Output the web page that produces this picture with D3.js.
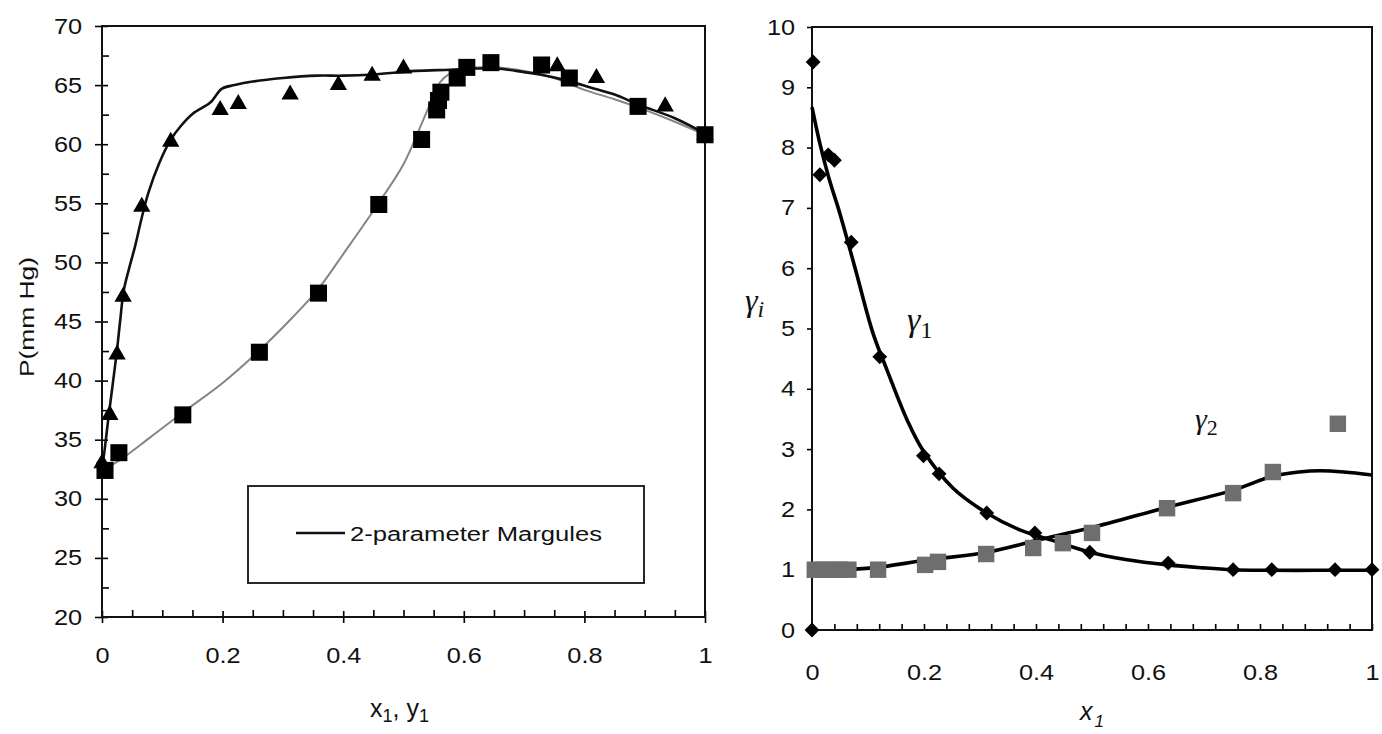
<!DOCTYPE html>
<html><head><meta charset="utf-8">
<script src="https://cdn.jsdelivr.net/npm/d3@7"></script>
<style>body{margin:0;background:#fff}svg{display:block}</style>
</head><body>
<svg id="c" width="1382" height="734"></svg>
<script>
// ---------- Left chart data: P-x-y ----------
const pTicks = [20, 25, 30, 35, 40, 45, 50, 55, 60, 65, 70];
const xTicksLeft = [0, 0.2, 0.4, 0.6, 0.8, 1];
// triangles (bubble point data)
const triX = [0.0, 0.013, 0.025, 0.035, 0.066, 0.114, 0.196, 0.226, 0.312, 0.392, 0.448, 0.50, 0.755, 0.82, 0.934, 1.0];
const triP = [33.0, 37.1, 42.2, 47.1, 54.7, 60.2, 62.9, 63.4, 64.2, 65.0, 65.8, 66.4, 66.6, 65.6, 63.2, 60.8];
// squares (dew point data)
const sqX = [0.005, 0.028, 0.134, 0.261, 0.359, 0.459, 0.530, 0.555, 0.558, 0.562, 0.589, 0.605, 0.645, 0.729, 0.775, 0.889, 1.0];
const sqP = [32.4, 33.9, 37.1, 42.4, 47.4, 54.9, 60.4, 62.9, 63.7, 64.4, 65.6, 66.5, 66.9, 66.7, 65.6, 63.2, 60.8];
// black model curve
const bubX = [0, 0.004, 0.011, 0.024, 0.030, 0.036, 0.045, 0.055, 0.066, 0.077, 0.095, 0.113, 0.13, 0.151, 0.179, 0.199, 0.22, 0.25, 0.30, 0.356, 0.40, 0.45, 0.52, 0.577, 0.62, 0.655, 0.70, 0.726, 0.77, 0.81, 0.85, 0.892, 0.95, 1.0];
const bubP = [32.6, 34.0, 37.0, 42.2, 45.0, 47.6, 49.5, 51.4, 53.8, 55.9, 58.4, 60.3, 61.5, 62.6, 63.5, 64.7, 65.0, 65.3, 65.6, 65.8, 65.8, 65.9, 66.2, 66.3, 66.4, 66.4, 66.1, 65.9, 65.4, 64.8, 64.2, 63.3, 62.2, 60.9];
// gray model curve
const dewX = [0, 0.03, 0.08, 0.134, 0.2, 0.262, 0.317, 0.358, 0.40, 0.433, 0.461, 0.50, 0.539, 0.56, 0.577, 0.60, 0.65, 0.70, 0.75, 0.80, 0.85, 0.90, 0.95, 1.0];
const dewP = [32.4, 33.3, 35.2, 37.3, 39.8, 42.6, 45.4, 47.7, 50.7, 53.1, 55.2, 58.3, 62.8, 65.2, 66.0, 66.4, 66.5, 66.2, 65.6, 64.6, 63.8, 62.9, 61.9, 60.8];
const legendLabel = "2-parameter Margules";

// ---------- Right chart data: activity coefficients ----------
const gTicks = [0, 1, 2, 3, 4, 5, 6, 7, 8, 9, 10];
const xTicksRight = [0, 0.2, 0.4, 0.6, 0.8, 1];
const g1X = [0, 0.002, 0.014, 0.029, 0.04, 0.07, 0.121, 0.199, 0.227, 0.312, 0.398, 0.496, 0.636, 0.752, 0.821, 0.934, 1.0];
const g1Y = [0, 9.42, 7.55, 7.88, 7.79, 6.43, 4.53, 2.89, 2.59, 1.94, 1.61, 1.29, 1.11, 1.0, 1.0, 1.0, 1.0];
const g2X = [0.005, 0.02, 0.035, 0.05, 0.065, 0.118, 0.202, 0.225, 0.311, 0.395, 0.448, 0.50, 0.634, 0.752, 0.823, 0.939];
const g2Y = [1.0, 1.0, 1.0, 1.0, 1.0, 1.0, 1.08, 1.13, 1.26, 1.36, 1.44, 1.61, 2.02, 2.27, 2.62, 3.42];
const c1X = [0, 0.014, 0.03, 0.05, 0.077, 0.109, 0.134, 0.17, 0.198, 0.252, 0.312, 0.371, 0.428, 0.496, 0.56, 0.636, 0.70, 0.75, 0.8, 0.9, 1.0];
const c1Y = [8.67, 8.07, 7.5, 6.9, 6.0, 4.92, 4.31, 3.48, 2.98, 2.35, 1.94, 1.66, 1.49, 1.29, 1.17, 1.08, 1.03, 1.0, 0.99, 0.99, 0.99];
const c2X = [0, 0.05, 0.109, 0.205, 0.312, 0.407, 0.496, 0.636, 0.752, 0.823, 0.87, 0.907, 0.95, 1.0];
const c2Y = [1.0, 1.0, 1.03, 1.16, 1.29, 1.5, 1.69, 2.04, 2.32, 2.55, 2.62, 2.64, 2.62, 2.57];

// ---------- setup ----------
const SX = 1.15;
const FONT = "'Liberation Sans', Arial, Helvetica, sans-serif";
const SERIF = "'Liberation Serif', 'Times New Roman', serif";
const svg = d3.select('#c');
svg.append('rect').attr('width', 1382).attr('height', 734).attr('fill', '#fff');
const fmt = d => String(+d.toFixed(2));
const zip = (a, b) => a.map((v, i) => [v, b[i]]);

function styleAxis(g, sw) {
  g.select('.domain').remove();
  g.selectAll('line').attr('stroke', '#000').attr('stroke-width', sw || 1.6);
  g.selectAll('text').attr('font-family', FONT).attr('font-size', 22).attr('fill', '#111');
}

// ===== LEFT CHART =====
const xL = d3.scaleLinear([0, 1], [102, 705]);
const yL = d3.scaleLinear([20, 70], [617, 26]);
const L = svg.append('g');

// y axis
const gLy = L.append('g').attr('transform', `translate(${xL(0)},0)`)
  .call(d3.axisLeft(yL).tickValues(pTicks).tickSize(7).tickFormat(fmt));
styleAxis(gLy);
gLy.selectAll('text').attr('x', -20 / SX).attr('transform', `scale(${SX},1)`);
const gLy2 = L.append('g').attr('transform', `translate(${xL(0)},0)`)
  .call(d3.axisLeft(yL).tickValues(pTicks).tickSize(-6).tickFormat(''));
styleAxis(gLy2);
const pMinor = pTicks.slice(0, -1).map(v => v + 2.5);
const gLy3 = L.append('g').attr('transform', `translate(${xL(0)},0)`)
  .call(d3.axisLeft(yL).tickValues(pMinor).tickSize(-7).tickFormat(''));
styleAxis(gLy3);

// x axis
const gLx = L.append('g').attr('transform', `translate(0,${yL(20)})`)
  .call(d3.axisBottom(xL).tickValues(xTicksLeft).tickSize(6).tickFormat(fmt));
styleAxis(gLx);
gLx.selectAll('text').attr('y', 46).attr('dy', 0).attr('transform', `scale(${SX},1)`);
const gLx2 = L.append('g').attr('transform', `translate(0,${yL(20)})`)
  .call(d3.axisBottom(xL).tickValues(xTicksLeft).tickSize(-6).tickFormat(''));
styleAxis(gLx2);
const xMinorL = d3.range(1, 20).filter(i => i % 4 !== 0).map(i => i / 20);
const gLx3 = L.append('g').attr('transform', `translate(0,${yL(20)})`)
  .call(d3.axisBottom(xL).tickValues(xMinorL).tickSize(-7).tickFormat(''));
styleAxis(gLx3);

// frame
L.append('rect').attr('x', xL(0)).attr('y', yL(70)).attr('width', xL(1) - xL(0)).attr('height', yL(20) - yL(70))
  .attr('fill', 'none').attr('stroke', '#111').attr('stroke-width', 2);

// curves
const lineL = d3.line().x(d => xL(d[0])).y(d => yL(d[1])).curve(d3.curveCatmullRom.alpha(0.5));
L.append('path').attr('d', lineL(zip(dewX, dewP))).attr('fill', 'none').attr('stroke', '#858585').attr('stroke-width', 2);
L.append('path').attr('d', lineL(zip(bubX, bubP))).attr('fill', 'none').attr('stroke', '#111').attr('stroke-width', 2.6);

// markers
L.selectAll('.tri').data(zip(triX, triP)).join('path').attr('class', 'tri')
  .attr('d', d3.symbol(d3.symbolTriangle, 130)())
  .attr('transform', d => `translate(${xL(d[0])},${yL(d[1])})`).attr('fill', '#000');
L.selectAll('.sq').data(zip(sqX, sqP)).join('path').attr('class', 'sq')
  .attr('d', d3.symbol(d3.symbolSquare, 290)())
  .attr('transform', d => `translate(${xL(d[0])},${yL(d[1])})`).attr('fill', '#000');

// legend
L.append('rect').attr('x', 248).attr('y', 486).attr('width', 396).attr('height', 97)
  .attr('fill', '#fff').attr('stroke', '#111').attr('stroke-width', 1.8);
L.append('line').attr('x1', 296).attr('x2', 345).attr('y1', 533).attr('y2', 533).attr('stroke', '#111').attr('stroke-width', 2.6);
L.append('text').attr('x', 350).attr('y', 541).attr('font-family', FONT).attr('font-size', 20).attr('fill', '#111')
  .attr('textLength', 252).attr('lengthAdjust', 'spacingAndGlyphs').text(legendLabel);

// axis titles
L.append('text').attr('transform', 'translate(34,377) rotate(-90)').attr('font-family', FONT).attr('font-size', 20).attr('fill', '#111')
  .attr('textLength', 120).attr('lengthAdjust', 'spacingAndGlyphs').text('P(mm Hg)');
const tL = L.append('text').attr('x', 370).attr('y', 717).attr('font-family', FONT).attr('font-size', 25).attr('fill', '#111');
tL.append('tspan').text('x');
tL.append('tspan').attr('font-size', 18).attr('dy', 5).text('1');
tL.append('tspan').attr('dy', -5).text(', y');
tL.append('tspan').attr('font-size', 18).attr('dy', 5).text('1');

// ===== RIGHT CHART =====
const xR = d3.scaleLinear([0, 1], [812, 1372]);
const yR = d3.scaleLinear([0, 10], [630, 27]);
const R = svg.append('g');

const gRy = R.append('g').attr('transform', `translate(${xR(0)},0)`)
  .call(d3.axisLeft(yR).tickValues(gTicks).tickSize(5).tickFormat(fmt));
styleAxis(gRy);
gRy.selectAll('text').attr('x', -17 / SX).attr('transform', `scale(${SX},1)`);

const xMinorR = d3.range(0, 26).map(i => i / 25);
const gRx = R.append('g').attr('transform', `translate(0,${yR(0)})`)
  .call(d3.axisBottom(xR).tickValues(xMinorR).tickSize(-6).tickFormat(''));
styleAxis(gRx);
const gRx2 = R.append('g').attr('transform', `translate(0,${yR(0)})`)
  .call(d3.axisBottom(xR).tickValues(xTicksRight).tickSize(0).tickFormat(fmt));
styleAxis(gRx2);
gRx2.selectAll('text').attr('y', 50).attr('dy', 0).attr('transform', `scale(${SX},1)`);

R.append('rect').attr('x', xR(0)).attr('y', yR(10)).attr('width', xR(1) - xR(0)).attr('height', yR(0) - yR(10))
  .attr('fill', 'none').attr('stroke', '#111').attr('stroke-width', 2);

const lineR = d3.line().x(d => xR(d[0])).y(d => yR(d[1])).curve(d3.curveCatmullRom.alpha(0.5));
R.append('path').attr('d', lineR(zip(c1X, c1Y))).attr('fill', 'none').attr('stroke', '#000').attr('stroke-width', 3.6);
R.append('path').attr('d', lineR(zip(c2X, c2Y))).attr('fill', 'none').attr('stroke', '#000').attr('stroke-width', 3.6);

R.selectAll('.gs').data(zip(g2X, g2Y)).join('path').attr('class', 'gs')
  .attr('d', d3.symbol(d3.symbolSquare, 270)())
  .attr('transform', d => `translate(${xR(d[0])},${yR(d[1])})`).attr('fill', '#6e6e6e');
R.selectAll('.gd').data(zip(g1X, g1Y)).join('path').attr('class', 'gd')
  .attr('d', d3.symbol(d3.symbolSquare, 110)())
  .attr('transform', d => `translate(${xR(d[0])},${yR(d[1])}) rotate(45)`).attr('fill', '#000');

// gamma labels
function gammaLabel(x, y, sub, gSize, sSize, dy, italicSub) {
  const t = R.append('text').attr('x', x).attr('y', y).attr('font-family', SERIF).attr('fill', '#111');
  t.append('tspan').attr('font-style', 'italic').attr('font-size', gSize).text('γ');
  t.append('tspan').attr('font-size', sSize).attr('dy', dy).attr('font-style', italicSub ? 'italic' : 'normal').text(sub);
}
gammaLabel(745, 311, 'i', 32, 24, 6, true);
gammaLabel(907, 331, '1', 34, 24, 7, false);
gammaLabel(1195, 429, '2', 30, 22, 6, false);

const tR = R.append('text').attr('x', 1080).attr('y', 720).attr('font-family', FONT).attr('font-style', 'italic').attr('font-size', 25).attr('fill', '#111');
tR.append('tspan').text('x');
tR.append('tspan').attr('font-size', 17).attr('dy', 7).attr('dx', 2).text('1');
</script>
</body></html>
